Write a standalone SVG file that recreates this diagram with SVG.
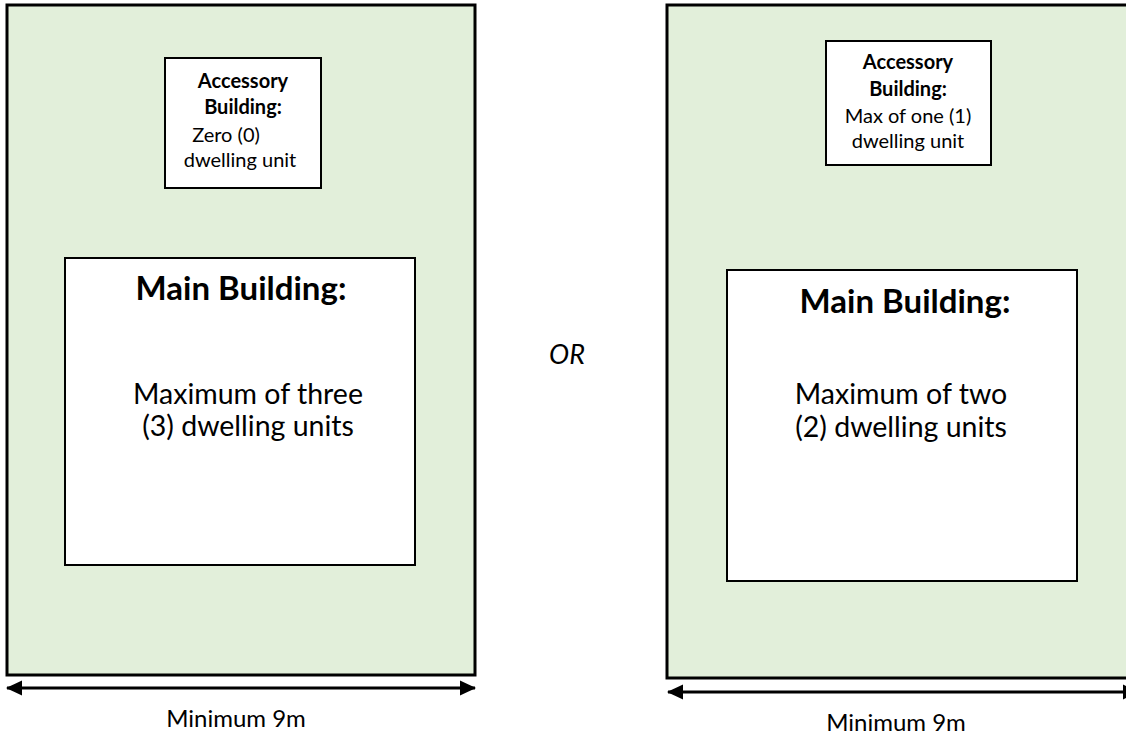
<svg xmlns="http://www.w3.org/2000/svg" width="1126" height="736" viewBox="0 0 1126 736">
<style>
.lot{fill:#E2EFDA;stroke:#000;stroke-width:3}
.bld{fill:#fff;stroke:#000;stroke-width:2}
text{font-family:Lato,"Open Sans","Liberation Sans",sans-serif;fill:#000}
.acc{font-size:20px;text-anchor:middle}
.b{font-weight:bold}
.head{font-size:33px;font-weight:bold;text-anchor:middle}
.body{font-size:28.5px;text-anchor:middle}
.dim{font-size:24px;text-anchor:middle}
.or{font-size:27px;font-style:italic;text-anchor:middle}
.arr{stroke:#000;stroke-width:3;fill:none;marker-start:url(#ah);marker-end:url(#ah)}
</style>
<defs>
<marker id="ah" markerUnits="userSpaceOnUse" markerWidth="18" markerHeight="18" viewBox="0 0 18 18" refX="16" refY="9" orient="auto-start-reverse">
<path d="M1,1.5 L17,9 L1,16.5 z" fill="#000"/>
</marker>
</defs>
<rect width="1126" height="736" fill="#fff"/>
<g id="lot-left">
<rect class="lot" x="7" y="5" width="468" height="670"/>
</g>
<g id="lot-right">
<rect class="lot" x="667" y="5" width="472" height="673"/>
</g>
<g id="acc-left">
<rect class="bld" x="165" y="58" width="156" height="130"/>
<text class="acc b" x="243" y="88">Accessory</text>
<text class="acc b" x="243" y="114">Building:</text>
<text class="acc" x="226" y="142">Zero (0)</text>
<text class="acc" x="240" y="167">dwelling unit</text>
</g>
<g id="main-left">
<rect class="bld" x="65" y="258" width="350" height="307"/>
<text class="head" x="241" y="300">Main Building:</text>
<text class="body" x="248" y="404">Maximum of three</text>
<text class="body" x="248" y="436">(3) dwelling units</text>
</g>
<g id="acc-right">
<rect class="bld" x="826" y="41" width="165" height="124"/>
<text class="acc b" x="908" y="69">Accessory</text>
<text class="acc b" x="908" y="96">Building:</text>
<text class="acc" x="908" y="123">Max of one (1)</text>
<text class="acc" x="908" y="148">dwelling unit</text>
</g>
<g id="main-right">
<rect class="bld" x="727" y="270" width="350" height="311"/>
<text class="head" x="905" y="313">Main Building:</text>
<text class="body" x="901" y="404">Maximum of two</text>
<text class="body" x="901" y="437">(2) dwelling units</text>
</g>
<g id="or-label">
<text class="or" x="567" y="364">OR</text>
</g>
<g id="connectors">
<line class="arr" x1="7" y1="688" x2="475" y2="688"/>
<line class="arr" x1="668" y1="692" x2="1138" y2="692"/>
</g>
<g id="dim-labels">
<text class="dim" x="236" y="727">Minimum 9m</text>
<text class="dim" x="896" y="731">Minimum 9m</text>
</g>
</svg>
